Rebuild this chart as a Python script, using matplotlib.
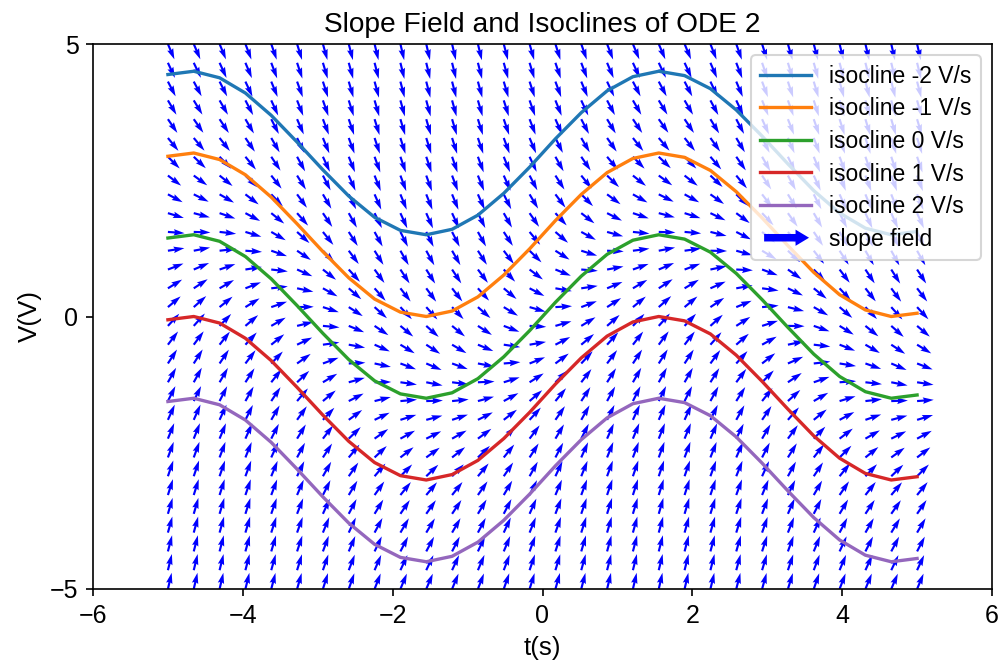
import numpy as np
import matplotlib
matplotlib.use("Agg")
import matplotlib.pyplot as plt
import matplotlib.patches as mpatches
from matplotlib.legend_handler import HandlerPatch

plt.rcParams['font.family'] = ['Liberation Sans', 'DejaVu Sans']

# ---- data ----
isocline_slopes = [-2, -1, 0, 1, 2]          # V/s
isocline_labels = ["isocline -2 V/s", "isocline -1 V/s", "isocline 0 V/s",
                   "isocline 1 V/s", "isocline 2 V/s"]

iso_m2 = [4.44, 4.50, 4.38, 4.10, 3.69, 3.20, 2.69, 2.21, 1.82, 1.58,
          1.50, 1.60, 1.86, 2.26, 2.74, 3.26, 3.74, 4.14, 4.40, 4.50,
          4.42, 4.18, 3.79, 3.31, 2.80, 2.31, 1.90, 1.62, 1.50, 1.56]
iso_m1 = [2.94, 3.00, 2.88, 2.60, 2.19, 1.70, 1.19, 0.71, 0.32, 0.08,
          0.00, 0.10, 0.36, 0.76, 1.24, 1.76, 2.24, 2.64, 2.90, 3.00,
          2.92, 2.68, 2.29, 1.81, 1.30, 0.81, 0.40, 0.12, 0.00, 0.06]
iso_0 = [1.44, 1.50, 1.38, 1.10, 0.69, 0.20, -0.31, -0.79, -1.18, -1.42,
         -1.50, -1.40, -1.14, -0.74, -0.26, 0.26, 0.74, 1.14, 1.40, 1.50,
         1.42, 1.18, 0.79, 0.31, -0.20, -0.69, -1.10, -1.38, -1.50, -1.44]
iso_p1 = [-0.06, 0.00, -0.12, -0.40, -0.81, -1.30, -1.81, -2.29, -2.68, -2.92,
          -3.00, -2.90, -2.64, -2.24, -1.76, -1.24, -0.76, -0.36, -0.10, 0.00,
          -0.08, -0.32, -0.71, -1.19, -1.70, -2.19, -2.60, -2.88, -3.00, -2.94]
iso_p2 = [-1.56, -1.50, -1.62, -1.90, -2.31, -2.80, -3.31, -3.79, -4.18, -4.42,
          -4.50, -4.40, -4.14, -3.74, -3.26, -2.74, -2.26, -1.86, -1.60, -1.50,
          -1.58, -1.82, -2.21, -2.69, -3.20, -3.69, -4.10, -4.38, -4.50, -4.44]
isoclines = [iso_m2, iso_m1, iso_0, iso_p1, iso_p2]

t_range = (-5, 5)
v_range = (-5, 5)
n_grid = 30
x_ticks = [-6, -4, -2, 0, 2, 4, 6]
y_ticks = [-5, 0, 5]

# ---- figure ----
W, H, DPI = 1001, 671, 150
fig = plt.figure(figsize=(W / DPI, H / DPI), dpi=DPI)
ax = fig.add_axes([93 / W, 1 - 589 / H, 899 / W, 545 / H])

t = np.linspace(t_range[0], t_range[1], n_grid)
v = np.linspace(v_range[0], v_range[1], n_grid)
T, V = np.meshgrid(t, v)

# slope field derived from the isocline data: slope = (iso0 - V) / spacing
iso0 = np.array(iso_0)
spacing = np.array(iso_m1) - iso0
S = (iso0[None, :] - V) / spacing[None, :]
norm = np.sqrt(1 + S ** 2)
U = 1 / norm
Wv = S / norm

ax.quiver(T, V, U, Wv, color='blue')

colors = ['C0', 'C1', 'C2', 'C3', 'C4']
handles = []
for vals, lab, c in zip(isoclines, isocline_labels, colors):
    h, = ax.plot(t, vals, color=c, lw=1.6, label=lab)
    handles.append(h)

proxy = mpatches.Patch(color='blue', label='slope field')


def make_arrow(legend, orig_handle, xdescent, ydescent, width, height, fontsize):
    y = height / 2 - ydescent
    x0 = 0.1 * width - xdescent
    return mpatches.FancyArrow(x0, y, 0.83 * width, 0, width=2.6,
                               head_width=6.0, head_length=5.0,
                               length_includes_head=True, color='blue')


ax.legend(handles=handles + [proxy], loc='upper right', fontsize=11,
          labelspacing=0.42, handlelength=2.2,
          handler_map={proxy: HandlerPatch(patch_func=make_arrow)})

ax.set_xlim(-6, 6)
ax.set_ylim(-5, 5)
ax.set_xticks(x_ticks)
ax.set_yticks(y_ticks)
ax.tick_params(labelsize=12)
ax.set_xlabel('t(s)', fontsize=12.5)
ax.set_ylabel('V(V)', fontsize=12.5)
ax.set_title('Slope Field and Isoclines of ODE 2', fontsize=13.5)

fig.savefig('out.png', dpi=DPI)
